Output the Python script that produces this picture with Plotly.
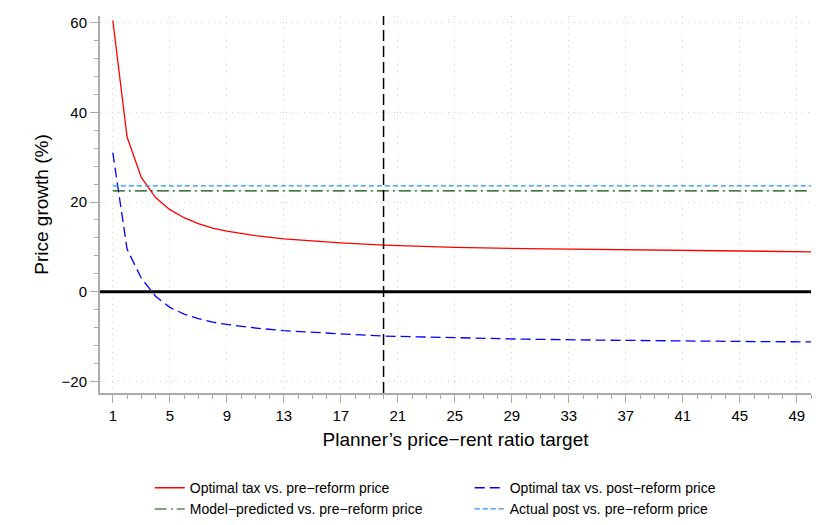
import plotly.graph_objects as go

# Planner's price-rent ratio target
ratio = [1, 2, 3, 4, 5, 6, 7, 8, 9, 11, 13, 15, 17, 20, 25, 30, 35, 40, 45, 50]
# Optimal tax vs. pre-reform price (%)
opt_pre = [60.5, 34.5, 25.5, 21.0, 18.3, 16.5, 15.2, 14.2, 13.5, 12.5, 11.8, 11.3, 10.9, 10.4, 9.9, 9.6, 9.4, 9.2, 9.05, 8.9]
# Optimal tax vs. post-reform price (%)
opt_post = [31.0, 9.5, 3.0, -1.0, -3.5, -5.0, -6.0, -6.8, -7.3, -8.1, -8.7, -9.1, -9.4, -9.9, -10.3, -10.6, -10.8, -11.0, -11.1, -11.2]
model_pred = 22.5
actual_post = 23.6
target_line = 20

fig = go.Figure()
fig.add_trace(go.Scatter(x=ratio, y=opt_pre, mode="lines", name="Optimal tax vs. pre\u2212reform price",
                         line=dict(color="red", width=1.3)))
fig.add_trace(go.Scatter(x=ratio, y=opt_post, mode="lines", name="Optimal tax vs. post\u2212reform price",
                         line=dict(color="blue", width=1.3, dash="10px,5px")))
fig.add_trace(go.Scatter(x=[ratio[0], ratio[-1]], y=[model_pred] * 2, mode="lines",
                         name="Model\u2212predicted vs. pre\u2212reform price",
                         line=dict(color="#004d00", width=1.1, dash="12px,4px,2px,4px")))
fig.add_trace(go.Scatter(x=[ratio[0], ratio[-1]], y=[actual_post] * 2, mode="lines",
                         name="Actual post vs. pre\u2212reform price",
                         line=dict(color="#1e90ff", width=1.3, dash="5px,3px")))

fig.add_hline(y=0, line=dict(color="black", width=3))
fig.add_vline(x=target_line, line=dict(color="black", width=1.5, dash="11px,5px"))

fig.update_layout(
    width=815, height=525,
    margin=dict(l=92, r=12, t=8, b=130),
    plot_bgcolor="white", paper_bgcolor="white",
    font=dict(family="Liberation Sans, Arial", size=15, color="black"),
    showlegend=True,
    legend=dict(orientation="h", x=0.07, y=-0.21, xanchor="left", yanchor="top",
                entrywidth=0.45, entrywidthmode="fraction", font=dict(size=14)),
)
fig.update_xaxes(
    range=[0.1, 50], tickvals=list(range(1, 50, 4)), automargin=False,
    showgrid=True, gridcolor="#cfcfcf", griddash="1px,5px", gridwidth=1,
    showline=True, linecolor="#aaaaaa", linewidth=2,
    ticks="outside", ticklen=8, tickcolor="#aaaaaa",
    minor=dict(tickvals=list(range(1, 51)), ticks="outside", ticklen=4, tickcolor="#aaaaaa", showgrid=False),
    zeroline=False, tickfont=dict(size=15),
    title=dict(text="Planner\u2019s price\u2212rent ratio target", font=dict(size=19), standoff=10),
)
fig.update_yaxes(
    range=[-22.6, 61.5], tickvals=[-20, 0, 20, 40, 60], ticktext=["\u221220", "0", "20", "40", "60"],
    automargin=False,
    showgrid=True, gridcolor="#cfcfcf", griddash="1px,5px", gridwidth=1,
    showline=True, linecolor="#aaaaaa", linewidth=2,
    ticks="outside", ticklen=8, tickcolor="#aaaaaa",
    minor=dict(tickvals=list(range(-20, 61, 4)), ticks="outside", ticklen=4, tickcolor="#aaaaaa", showgrid=False),
    zeroline=False, tickfont=dict(size=15),
    title=dict(text="Price growth (%)", font=dict(size=19), standoff=8),
)

fig.write_html("out.html")
